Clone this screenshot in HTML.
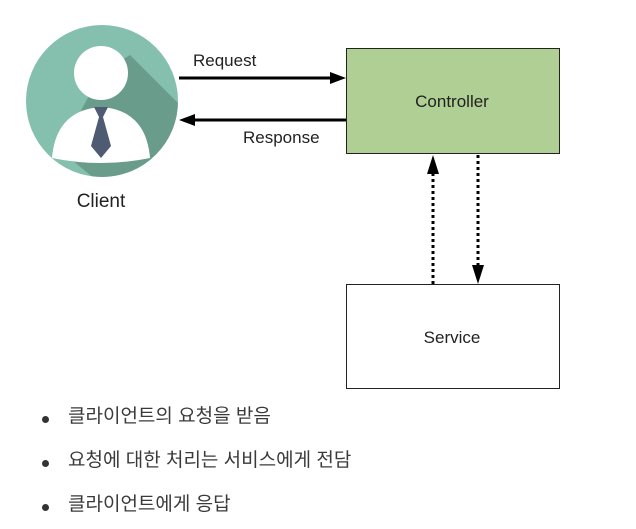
<!DOCTYPE html>
<html><head><meta charset="utf-8"><style>
body{margin:0;background:#fff;width:636px;height:529px;overflow:hidden;position:relative}
svg{position:absolute;left:0;top:0}
.li{position:absolute;left:68px;font-family:"Liberation Sans","Noto Sans CJK KR",sans-serif;font-size:19px;color:#3a3a3a;line-height:22px}
.dot{position:absolute;left:42px;width:7px;height:7px;border-radius:50%;background:#333}
</style></head><body>
<svg width="636" height="529" viewBox="0 0 636 529">
<defs><clipPath id="c"><circle cx="102" cy="101" r="76"/></clipPath></defs>
<circle cx="102" cy="101" r="76" fill="#85c0ae"/>
<g clip-path="url(#c)"><polygon points="101,73 130,55 200,125 200,200 120,200 60,150" fill="#6a9c8b"/></g>
<circle cx="101" cy="73" r="27" fill="#fff"/>
<path d="M52,158 Q56,110 101,107 Q146,110 150,158 Q101,168 52,158Z" fill="#fff"/>
<polygon points="94,107 108,107 103,117 111,146 101,158 91,146 99,117" fill="#4f5b73"/>
<text x="101" y="207" text-anchor="middle" font-family="Liberation Sans,sans-serif" font-size="19" fill="#222">Client</text>
<line x1="179" y1="78" x2="332" y2="78" stroke="#000" stroke-width="3"/>
<polygon points="346,78 330,72 330,84" fill="#000"/>
<line x1="193" y1="120" x2="346" y2="120" stroke="#000" stroke-width="3"/>
<polygon points="179,120 195,114 195,126" fill="#000"/>
<text x="193" y="66" font-family="Liberation Sans,sans-serif" font-size="17" fill="#222">Request</text>
<text x="243" y="143" font-family="Liberation Sans,sans-serif" font-size="17" fill="#222">Response</text>
<rect x="346.5" y="48.5" width="213" height="105" fill="#b0cf94" stroke="#222" stroke-width="1"/>
<text x="452" y="107" text-anchor="middle" font-family="Liberation Sans,sans-serif" font-size="17" fill="#222">Controller</text>
<rect x="346.5" y="284.5" width="213" height="104" fill="#fff" stroke="#222" stroke-width="1"/>
<text x="452" y="343" text-anchor="middle" font-family="Liberation Sans,sans-serif" font-size="17" fill="#222">Service</text>
<line x1="433" y1="284" x2="433" y2="170" stroke="#000" stroke-width="3" stroke-dasharray="3,3"/>
<polygon points="433,155 427,174 439,174" fill="#000"/>
<line x1="478" y1="155" x2="478" y2="268" stroke="#000" stroke-width="3" stroke-dasharray="3,3"/>
<polygon points="478,284 472,265 484,265" fill="#000"/>
</svg>
<div class="dot" style="top:416px"></div><div class="li" style="top:406px">클라이언트의 요청을 받음</div>
<div class="dot" style="top:460px"></div><div class="li" style="top:450px">요청에 대한 처리는 서비스에게 전담</div>
<div class="dot" style="top:504px"></div><div class="li" style="top:494px">클라이언트에게 응답</div>
</body></html>
